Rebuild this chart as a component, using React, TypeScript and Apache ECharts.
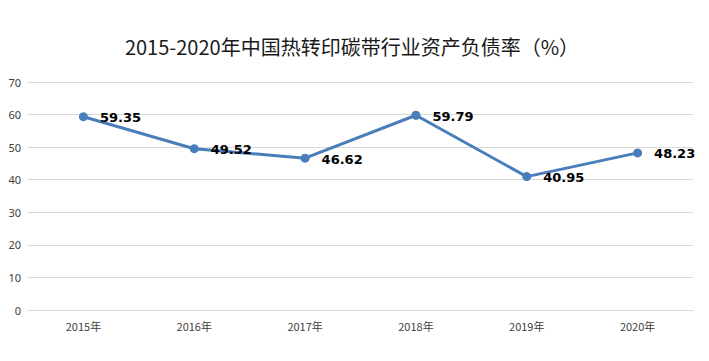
import React, { useEffect, useRef } from "react";
import * as echarts from "echarts";

const categories = ["2015年", "2016年", "2017年", "2018年", "2019年", "2020年"];
const values = [59.35, 49.52, 46.62, 59.79, 40.95, 48.23];
const yTicks = { min: 0, max: 70, interval: 10 };
const titleText = "2015-2020年中国热转印碳带行业资产负债率（%）";

export default function App() {
  const ref = useRef<HTMLDivElement>(null);
  useEffect(() => {
    const chart = echarts.init(ref.current!, undefined, { renderer: "svg" });
    chart.setOption({
      animation: false,
      backgroundColor: "#ffffff",
      title: {
        text: titleText,
        left: 347,
        textAlign: "center",
        top: 31,
        textStyle: {
          fontFamily: "Noto Sans CJK SC",
          fontSize: 20,
          fontWeight: "normal",
          color: "#1a1a1a",
        },
      },
      grid: { left: 28, right: 16, top: 82, bottom: 51 },
      xAxis: {
        type: "category",
        data: categories,
        boundaryGap: true,
        axisLine: { lineStyle: { color: "#d9d9d9", width: 1 } },
        axisTick: { show: false },
        axisLabel: {
          color: "#404040",
          fontSize: 11,
          fontFamily: "Noto Sans CJK SC",
          margin: 10,
        },
      },
      yAxis: {
        type: "value",
        min: yTicks.min,
        max: yTicks.max,
        interval: yTicks.interval,
        axisLine: { show: false },
        axisTick: { show: false },
        splitLine: { lineStyle: { color: "#d9d9d9", width: 1 } },
        axisLabel: {
          color: "#404040",
          fontSize: 11,
          fontFamily: "Noto Sans",
          margin: 7,
        },
      },
      series: [
        {
          type: "line",
          data: values,
          symbol: "circle",
          symbolSize: 9,
          lineStyle: { color: "#4a7ebb", width: 3 },
          itemStyle: { color: "#4a7ebb" },
          label: {
            show: true,
            position: "right",
            distance: 12,
            offset: [0, 1],
            color: "#000000",
            fontWeight: "bold",
            fontSize: 13,
            fontFamily: "DejaVu Sans",
            formatter: (p: any) => p.value.toFixed(2),
          },
        },
      ],
    });
    return () => chart.dispose();
  }, []);
  return (
    <div
      ref={ref}
      style={{ position: "absolute", left: 0, top: 0, width: 709, height: 361 }}
    />
  );
}
